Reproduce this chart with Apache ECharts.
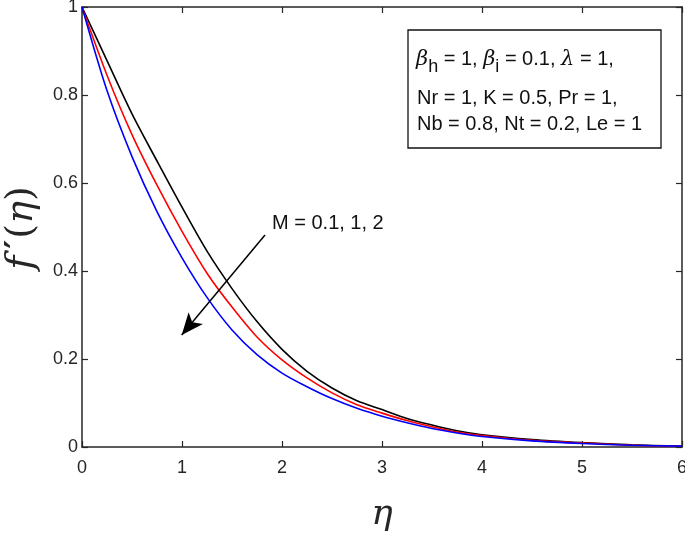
<!DOCTYPE html>
<html>
<head>
<meta charset="utf-8">
<script src="https://cdn.jsdelivr.net/npm/echarts@6/dist/echarts.min.js"></script>
<style>
  html, body { margin: 0; padding: 0; background: #fff; }
  #chart { width: 685px; height: 533px; }
</style>
</head>
<body>
<div id="chart"></div>
<script>
// eta grid and the three velocity profiles
var eta = [0, 0.25, 0.5, 0.75, 1, 1.25, 1.5, 1.75, 2, 2.25, 2.5, 2.75, 3, 3.25, 3.5, 3.75, 4, 4.5, 5, 5.5, 6];
var fM01 = [1, 0.878, 0.757, 0.650, 0.545, 0.445, 0.360, 0.285, 0.222, 0.172, 0.134, 0.105, 0.085, 0.065, 0.050, 0.037, 0.028, 0.017, 0.010, 0.005, 0.002];
var fM1  = [1, 0.845, 0.710, 0.595, 0.490, 0.395, 0.318, 0.250, 0.198, 0.157, 0.123, 0.096, 0.077, 0.060, 0.046, 0.034, 0.026, 0.015, 0.009, 0.004, 0.002];
var fM2  = [1, 0.810, 0.660, 0.535, 0.430, 0.340, 0.266, 0.210, 0.168, 0.137, 0.110, 0.088, 0.070, 0.055, 0.042, 0.032, 0.024, 0.014, 0.008, 0.004, 0.002];

var xTicks = [0, 1, 2, 3, 4, 5, 6];
var yTicks = [0, 0.2, 0.4, 0.6, 0.8, 1];

// arrow for "M = 0.1, 1, 2" (data coords)
var arrowFrom = [1.83, 0.482];
var arrowTo = [0.997, 0.2545];

function pairs(xs, ys) {
    return xs.map(function (x, i) { return [x, ys[i]]; });
}

var chart = echarts.init(document.getElementById('chart'));

var tickFont = { fontFamily: 'Liberation Sans', fontSize: 18, color: '#262626' };
var axisCol = '#262626';

function xAx(pos, labels) {
    return {
        type: 'value', position: pos, min: xTicks[0], max: xTicks[xTicks.length - 1], interval: 1,
        axisLine: { show: true, onZero: false, lineStyle: { color: axisCol, width: 1.5 } },
        axisTick: { show: true, inside: true, length: 6, lineStyle: { color: axisCol, width: 1.2 } },
        axisLabel: Object.assign({ show: labels, margin: 12 }, tickFont),
        splitLine: { show: false }
    };
}
function yAx(pos, labels) {
    return {
        type: 'value', position: pos, min: yTicks[0], max: yTicks[yTicks.length - 1], interval: 0.2,
        axisLine: { show: true, onZero: false, lineStyle: { color: axisCol, width: 1.5 } },
        axisTick: { show: true, inside: true, length: 6, lineStyle: { color: axisCol, width: 1.2 } },
        axisLabel: Object.assign({ show: labels, margin: 4, formatter: function (v) { return String(+v.toFixed(1)); } }, tickFont),
        splitLine: { show: false }
    };
}

var xBottom = xAx('bottom', true);
xBottom.name = 'η';
xBottom.nameLocation = 'middle';
xBottom.nameGap = 50;
xBottom.nameTextStyle = { fontFamily: 'DejaVu Serif', fontStyle: 'italic', fontSize: 36, color: '#262626' };

function line(name, ys, color) {
    return {
        name: name, type: 'line', data: pairs(eta, ys), smooth: 0.3, showSymbol: false,
        lineStyle: { color: color, width: 1.6 }, itemStyle: { color: color }, silent: true, z: 3
    };
}

var series = [
    line('M = 0.1', fM01, '#000000'),
    line('M = 1', fM1, '#ff0000'),
    line('M = 2', fM2, '#0000ff')
];
series[0].markLine = {
    silent: true,
    symbol: ['none', 'arrow'],
    symbolSize: [14, 22],
    label: { show: false },
    lineStyle: { color: '#000', width: 1.5, type: 'solid' },
    data: [[{ coord: arrowFrom }, { coord: arrowTo }]]
};

var sansTxt = { fontFamily: 'Liberation Sans', fontSize: 20, fill: '#111' };
var serifIt = { fontFamily: 'DejaVu Serif', fontStyle: 'italic', fontSize: 38, fill: '#262626' };

chart.setOption({
    animation: false,
    backgroundColor: '#fff',
    grid: { left: 82, right: 3, top: 7, bottom: 86, outerBoundsMode: 'none' },
    xAxis: [xBottom, xAx('top', false)],
    yAxis: [yAx('left', true), yAx('right', false)],
    series: series,
    graphic: [
        // y axis title, rotated
        {
            type: 'text', x: 22, y: 228, rotation: Math.PI / 2, z: 11,
            style: {
                text: '{i|f}{p|\u2032}{n|(}{i|η}{n|)}', align: 'center', verticalAlign: 'middle',
                rich: {
                    i: serifIt,
                    p: { fontFamily: 'DejaVu Sans', fontWeight: 'bold', fontSize: 34, fill: '#262626', padding: [0, 1, 0, 7], verticalAlign: 'top' },
                    n: { fontFamily: 'DejaVu Serif', fontSize: 38, fill: '#262626' }
                }
            }
        },
        {
            type: 'rect', shape: { x: 408, y: 30, width: 253, height: 118 },
            style: { fill: '#fff', stroke: '#111', lineWidth: 1.3 }, z: 10
        },
        {
            type: 'text', left: 416, top: 49, z: 11,
            style: {
                text: '{g|β}{s|h}{t| = 1, }{g|β}{s|i}{t| = 0.1, }{g|λ}{t| = 1,}',
                rich: {
                    g: { fontFamily: 'DejaVu Serif', fontStyle: 'italic', fontSize: 21, lineHeight: 34, verticalAlign: 'middle', fill: '#111' },
                    s: { fontFamily: 'Liberation Sans', fontSize: 18, lineHeight: 18, verticalAlign: 'bottom', fill: '#111' },
                    t: { fontFamily: 'Liberation Sans', fontSize: 20, lineHeight: 34, verticalAlign: 'middle', fill: '#111' }
                }
            }
        },
        { type: 'text', left: 417, top: 88, z: 11, style: Object.assign({ text: 'Nr = 1, K = 0.5, Pr = 1,' }, sansTxt) },
        { type: 'text', left: 417, top: 114, z: 11, style: Object.assign({ text: 'Nb = 0.8, Nt = 0.2, Le = 1' }, sansTxt) },
        { type: 'text', left: 272, top: 213, z: 11, style: Object.assign({ text: 'M = 0.1, 1, 2' }, sansTxt) }
    ]
});
</script>
</body>
</html>
